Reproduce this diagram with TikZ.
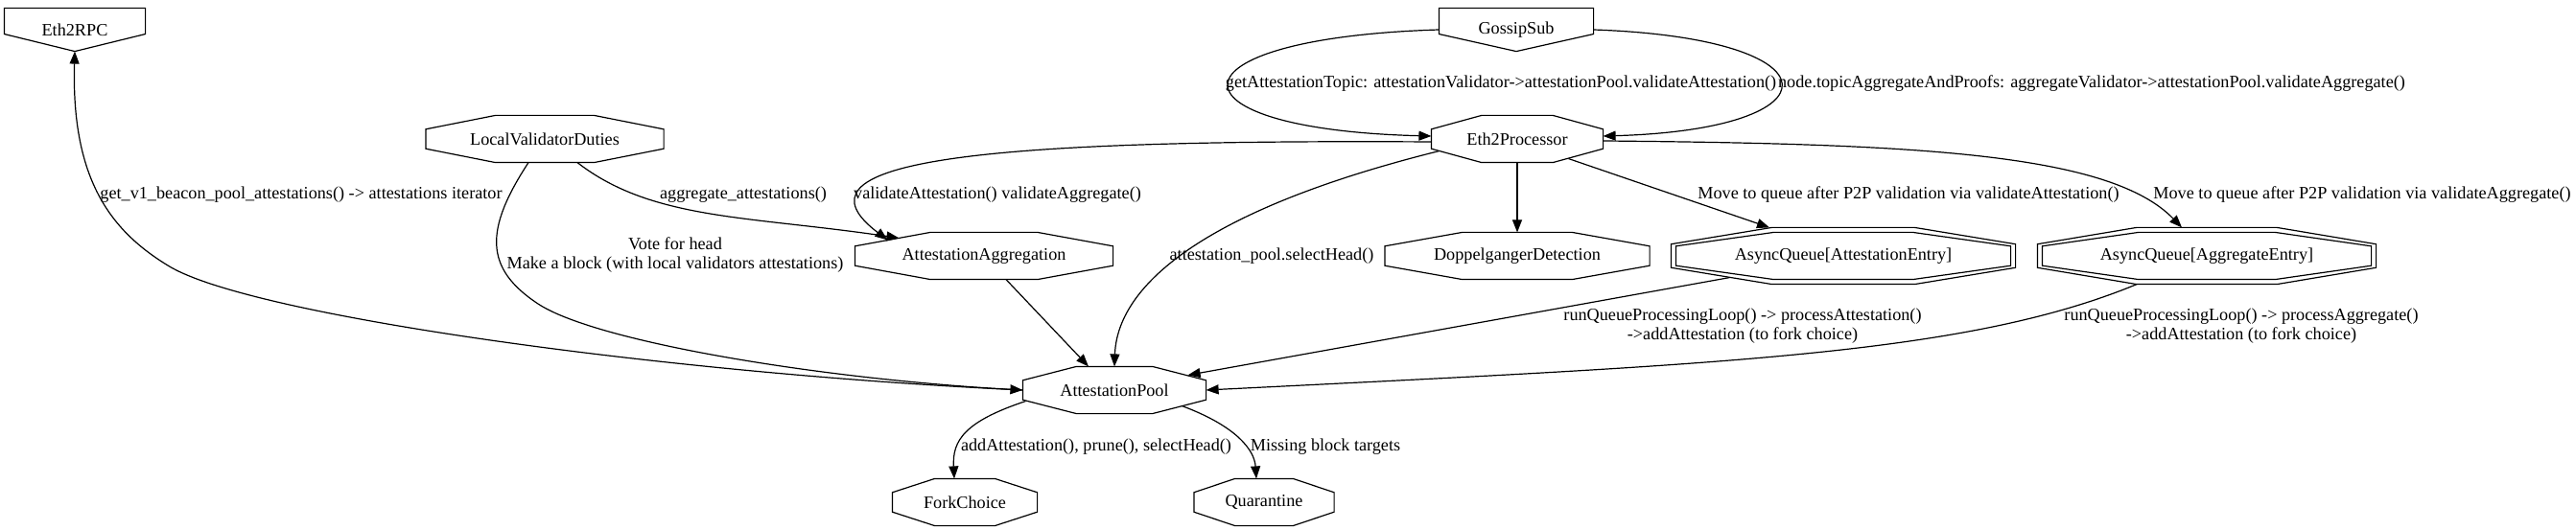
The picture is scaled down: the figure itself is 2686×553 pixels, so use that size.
\documentclass[tikz,border=0pt]{standalone}
\usepackage{fontspec}
\setmainfont{Liberation Serif}
\usepackage{tikz}
\usetikzlibrary{calc,arrows.meta}
\tikzset{>={Triangle[length=13pt,width=10pt]}}

\newcommand{\drawocta}[2][0]{%
  \coordinate (nw) at ($(#2.north west)+(#1,#1)$);
  \coordinate (ne) at ($(#2.north east)+(-#1,#1)$);
  \coordinate (se) at ($(#2.south east)+(-#1,-#1)$);
  \coordinate (sw) at ($(#2.south west)+(#1,-#1)$);
  \draw ($(nw)!0.2929!(ne)$) -- ($(ne)!0.2929!(nw)$) -- ($(ne)!0.2929!(se)$) -- ($(se)!0.2929!(ne)$)
     -- ($(se)!0.2929!(sw)$) -- ($(sw)!0.2929!(se)$) -- ($(sw)!0.2929!(nw)$) -- ($(nw)!0.2929!(sw)$) -- cycle;}
\newcommand{\drawhouse}[1]{%
  \draw (#1.north west) -- (#1.north east) -- ($(#1.north east)!0.6!(#1.south east)$) -- (#1.south)
     -- ($(#1.north west)!0.6!(#1.south west)$) -- cycle;}

\begin{document}
\begin{tikzpicture}[x=1pt,y=-1pt,line width=1.2pt,
    box/.style={inner sep=0pt,minimum height=48pt,font=\fontsize{18.2}{21}\selectfont},
    lbl/.style={inner sep=0pt,align=center,font=\fontsize{18.2}{20}\selectfont}]
\useasboundingbox (0,0) rectangle (2686,553);

	\node[box,minimum width=146pt,minimum height=44pt] (rpc) at (78,31) {Eth2RPC};
	\node[box,minimum width=160pt,minimum height=44pt] (gs) at (1581,31) {GossipSub};
	\node[box,minimum width=247pt] (lvd) at (568,145) {LocalValidatorDuties};
	\node[box,minimum width=178pt] (ep) at (1582,145) {Eth2Processor};
	\node[box,minimum width=268pt] (aa) at (1026,267) {AttestationAggregation};
	\node[box,minimum width=275pt] (dd) at (1582,267) {DoppelgangerDetection};
	\node[box,minimum width=358pt,minimum height=58pt] (aqa) at (1922,267) {AsyncQueue[AttestationEntry]};
	\node[box,minimum width=352pt,minimum height=58pt] (aqg) at (2301,267) {AsyncQueue[AggregateEntry]};
	\node[box,minimum width=190pt] (ap) at (1162,407) {AttestationPool};
	\node[box,minimum width=150pt] (fc) at (1006,524) {ForkChoice};
	\node[box,minimum width=145pt] (q) at (1318,524) {Quarantine};

	\drawhouse{rpc}
	\drawhouse{gs}
	\drawocta{lvd}
	\drawocta{ep}
	\drawocta{aa}
	\drawocta{dd}
	\drawocta{aqa} \drawocta[5]{aqa}
	\drawocta{aqg} \drawocta[5]{aqg}
	\drawocta{ap}
	\drawocta{fc}
	\drawocta{q}

	\draw[->] (gs.west) .. controls (1210,40) and (1210,135) .. ($(ep.west)+(0,-3)$);
	\draw[->] (gs.east) .. controls (1920,40) and (1920,135) .. ($(ep.east)+(0,-3)$);
	\draw[->] (ap.west) .. controls (700,390) and (260,330) .. (175,277) .. controls (118,242) and (74,190) .. (rpc.south);
	\draw[->] ($(lvd.south)+(-17,0)$) .. controls (505,240) and (505,280) .. (561,317) .. controls (620,356) and (850,395) .. (ap.west);
	\draw[->] ($(lvd.south)+(34,0)$) .. controls (680,230) and (780,225) .. ($(aa.north west)+(46,6)$);
	\draw[->] ($(ep.west)+(0,3)$) .. controls (1000,145) and (820,170) .. ($(aa.north west)+(34,8)$);
	\draw[->] ($(ep.south west)+(8,-12)$) .. controls (1250,220) and (1165,300) .. (ap.north);
	\draw[->] (ep.south) -- (dd.north);
	\draw[->] ($(ep.south east)+(-36,-4)$) -- ($(aqa.north)+(-77,0)$);
	\draw[->] ($(ep.east)+(0,2)$) .. controls (2000,150) and (2200,160) .. ($(aqg.north)+(-26,0)$);
	\draw[->] ($(aa.south)+(23,0)$) -- ($(ap.north)+(-27,0)$);
	\draw[->] ($(aqa.south west)+(61,-7)$) -- ($(ap.north east)+(-19,9)$);
	\draw[->] ($(aqg.south)+(-73,0)$) .. controls (2050,370) and (1800,380) .. (ap.east);
	\draw[->] ($(ap.south west)+(3,-13)$) .. controls (1005,440) and (993,460) .. ($(fc.north)+(-11,0)$);
	\draw[->] ($(ap.south east)+(-25,-8)$) .. controls (1290,445) and (1308,470) .. ($(q.north)+(-8,0)$);

	% edge labels
	\node[lbl] (lrpc) at (314,203) {get\_v1\_beacon\_pool\_attestations() -> attestations iterator};
	\node[lbl] (lagg) at (775,203) {aggregate\_attestations()};
	\node[lbl] (lvote) at (704,266) {Vote for head\\Make a block (with local validators attestations)};
	\node[lbl] (lval) at (1040,203) {validateAttestation() validateAggregate()};
	\node[lbl] (lhead) at (1326,267) {attestation\_pool.selectHead()};
	\node[lbl] (ltopa) at (1565,87) {getAttestationTopic: attestationValidator->attestationPool.validateAttestation()};
	\node[lbl] (ltopg) at (2181,87) {node.topicAggregateAndProofs: aggregateValidator->attestationPool.validateAggregate()};
	\node[lbl] (lmova) at (1990,203) {Move to queue after P2P validation via validateAttestation()};
	\node[lbl] (lmovg) at (2463,203) {Move to queue after P2P validation via validateAggregate()};
	\node[lbl] (lrqa) at (1817,340) {runQueueProcessingLoop() -> processAttestation()\\->addAttestation (to fork choice)};
	\node[lbl] (lrqg) at (2337,340) {runQueueProcessingLoop() -> processAggregate()\\->addAttestation (to fork choice)};
	\node[lbl] (lfc) at (1143,466) {addAttestation(), prune(), selectHead()};
	\node[lbl] (lq) at (1382,466) {Missing block targets};
\end{tikzpicture}
\end{document}
